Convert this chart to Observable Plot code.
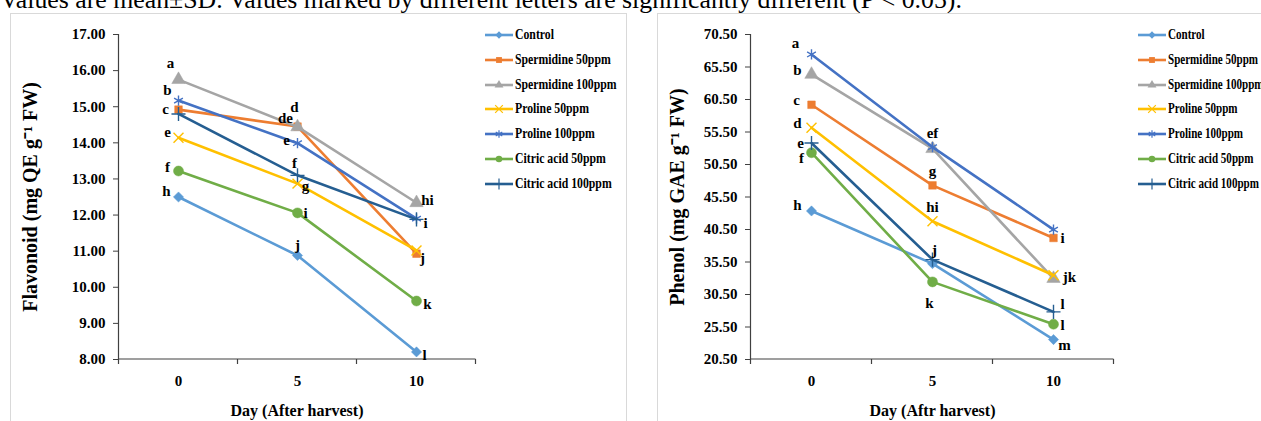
<!DOCTYPE html>
<html><head><meta charset="utf-8">
<script src="https://cdn.jsdelivr.net/npm/d3@7"></script>
<script src="https://cdn.jsdelivr.net/npm/@observablehq/plot@0.6"></script>
<style>
body{margin:0;background:#fff;}
#page{position:relative;width:1261px;height:421px;overflow:hidden;background:#fff;font-family:"Liberation Serif","Times New Roman",serif;}
#caption{position:absolute;left:0;top:-13px;font-size:25.8px;line-height:26px;white-space:nowrap;color:#000;}
.box{position:absolute;top:13px;height:420px;border:1px solid #d9d9d9;box-sizing:border-box;}
.chart{position:absolute;top:0;}
.legend{position:absolute;top:0;font-weight:bold;font-size:14px;color:#000;}
.legend .row{position:absolute;left:0;height:14px;display:flex;align-items:center;white-space:nowrap;}
.legend svg{margin-right:2px;flex:none;}
.legend span{display:inline-block;transform-origin:left center;}
</style></head>
<body><div id="page">
<div id="caption"></div>
<div class="box" style="left:10px;width:617px;"></div>
<div class="box" style="left:657px;width:700px;"></div>
</div>
<script>
// ---------- data ----------
const days = ["0", "5", "10"];
const seriesNames = ["Control", "Spermidine 50ppm", "Spermidine 100ppm", "Proline 50ppm", "Proline 100ppm", "Citric acid 50ppm", "Citric acid 100ppm"];
const flavonoidValues = [
  [12.50, 10.88, 8.21],
  [14.92, 14.45, 10.93],
  [15.75, 14.44, 12.34],
  [14.14, 12.87, 11.02],
  [15.17, 13.99, 11.90],
  [13.22, 12.06, 9.62],
  [14.80, 13.10, 11.88]
];
const phenolValues = [
  [43.35, 35.25, 23.57],
  [59.69, 47.29, 39.20],
  [64.35, 52.93, 32.95],
  [56.16, 41.76, 33.46],
  [67.43, 53.18, 40.48],
  [52.31, 32.44, 25.93],
  [53.80, 35.87, 27.83]
];
const flavonoidLetters = [
  ["h", "j", "l"],
  ["c", "de", "j"],
  ["a", "d", "hi"],
  ["e", "g", ""],
  ["b", "e", "i"],
  ["f", "i", "k"],
  ["", "f", ""]
];
const phenolLetters = [
  ["h", "", "m"],
  ["c", "g", "i"],
  ["b", "", "jk"],
  ["d", "hi", ""],
  ["a", "ef", ""],
  ["f", "k", "l"],
  ["e", "j", "l"]
];
const flavonoidTicks = [8, 9, 10, 11, 12, 13, 14, 15, 16, 17];
const phenolTicks = [20.5, 25.5, 30.5, 35.5, 40.5, 45.5, 50.5, 55.5, 60.5, 65.5, 70.5];
const captionText = "Values are mean±SD. Values marked by different letters are significantly different (P < 0.05).";
const flavonoidYLabel = "Flavonoid (mg QE g⁻¹ FW)";
const phenolYLabel = "Phenol (mg GAE g⁻¹ FW)";
const flavonoidXLabel = "Day (After harvest)";
const phenolXLabel = "Day (Aftr harvest)";

// ---------- styles ----------
const colors = ["#5B9BD5", "#ED7D31", "#A5A5A5", "#FFC000", "#4472C4", "#70AD47", "#255E91"];
const symbols = ["diamond2", "square", "triangle", "times", "asterisk", "circle", "plus"];
const symbolFilled = [true, true, true, false, false, true, false];
const symbolR = [4.6, 4.3, 5.0, 4.6, 4.8, 5.0, 4.6];
const d3Symbols = {diamond2: d3.symbolDiamond2, square: d3.symbolSquare, triangle: d3.symbolTriangle, times: d3.symbolTimes, asterisk: d3.symbolAsterisk, circle: d3.symbolCircle, plus: d3.symbolPlus};
// letter offsets [dx, dy] in px, same shape as the letter tables
const flavonoidOffsets = [
  [[-12, -6], [0, -10], [8, 3]],
  [[-13, 0], [-12, -8], [6, 4]],
  [[-8, -16], [-3, -20], [11, -3]],
  [[-11, -6], [8, 3], null],
  [[-11, -10], [-11, -3], [9, 5]],
  [[-11, -4], [8, 0], [11, 3]],
  [null, [-3, -12], null]
];
const phenolOffsets = [
  [[-14, -6], null, [11, 6]],
  [[-15, -5], [0, -14], [9, 0]],
  [[-14, -4], null, [16, -1]],
  [[-14, -5], [0, -14], null],
  [[-16, -11], [0, -14], null],
  [[-10, 5], [-3, 21], [9, 1]],
  [[-11, 0], [2, -9], [9, -8]]
];
const axisColor = "#404040";
const FONT = "Liberation Serif, Times New Roman, serif";

document.getElementById("caption").textContent = captionText;

function drawPanel(cfg) {
  const data = seriesNames.flatMap((s, i) => days.map((d, j) => ({
    series: s, idx: i, day: d, value: cfg.values[i][j], letter: cfg.letters[i][j], off: cfg.offsets[i][j]
  })));
  const marks = [
    Plot.axisY({ticks: cfg.ticks, tickFormat: d => d.toFixed(2), tickSize: 5, tickPadding: 8, label: null, stroke: axisColor, fontSize: 15}),
    Plot.axisX({tickSize: 0, tickPadding: 16, label: null, fontSize: 15})
  ];
  seriesNames.forEach((s, i) => {
    const sd = data.filter(d => d.idx === i);
    marks.push(Plot.line(sd, {x: "day", y: "value", stroke: "series", strokeWidth: 2.6}));
    marks.push(Plot.dot(sd, {x: "day", y: "value", symbol: symbols[i], r: symbolR[i],
      fill: symbolFilled[i] ? colors[i] : "none", stroke: colors[i], strokeWidth: symbolFilled[i] ? 0.5 : 1.4}));
  });
  data.filter(d => d.letter).forEach(d => {
    marks.push(Plot.text([d], {x: "day", y: "value", text: "letter", dx: d.off[0], dy: d.off[1], fontSize: 15, fontWeight: "bold", fill: "#000"}));
  });
  marks.push(Plot.text([cfg.xLabel], {text: d => d, frameAnchor: "bottom", textAnchor: "middle", lineAnchor: "middle", dy: 51, fontSize: 16, fontWeight: "bold", fill: "#000"}));
  marks.push(Plot.text([cfg.yLabel], {text: d => d, frameAnchor: "left", textAnchor: "middle", lineAnchor: "middle", rotate: -90, dx: cfg.yLabelDx, fontSize: 20, fontWeight: "bold", fill: "#000"}));

  const plot = Plot.plot({
    width: cfg.width, height: 421,
    marginLeft: cfg.marginLeft, marginRight: cfg.marginRight, marginTop: 34, marginBottom: 62,
    x: {type: "point", domain: days, padding: 0.5},
    y: {domain: [cfg.ticks[0], cfg.ticks[cfg.ticks.length - 1]]},
    color: {domain: seriesNames, range: colors},
    style: {fontFamily: FONT, fontSize: "14px", fontWeight: "bold", color: "#000", background: "transparent", overflow: "visible"},
    marks
  });
  // axis lines & category boundary ticks from the plot's own scales
  const xs = plot.scale("x"), ys = plot.scale("y");
  const svg = d3.select(plot);
  const yb = ys.apply(cfg.ticks[0]), yt = ys.apply(cfg.ticks[cfg.ticks.length - 1]);
  const step = xs.apply(days[1]) - xs.apply(days[0]);
  const bounds = days.map(d => xs.apply(d) - step / 2).concat([xs.apply(days[days.length - 1]) + step / 2]);
  const g = svg.insert("g", ":first-child").attr("stroke", axisColor).attr("stroke-width", 1.2);
  g.append("line").attr("x1", bounds[0]).attr("x2", bounds[0]).attr("y1", yt).attr("y2", yb);
  g.append("line").attr("x1", bounds[0]).attr("x2", bounds[bounds.length - 1]).attr("y1", yb).attr("y2", yb);
  bounds.forEach(b => g.append("line").attr("x1", b).attr("x2", b).attr("y1", yb).attr("y2", yb + 5));

  plot.classList.add("chart");
  plot.style.left = cfg.left + "px";
  document.getElementById("page").appendChild(plot);

  // legend
  const leg = document.createElement("div");
  leg.className = "legend";
  leg.style.left = cfg.legendLeft + "px";
  seriesNames.forEach((s, i) => {
    const row = document.createElement("div");
    row.className = "row";
    row.style.top = (35 - 7 + i * 24.8) + "px";
    const sw = d3.create("svg").attr("width", 28).attr("height", 14);
    sw.append("line").attr("x1", 0).attr("x2", 28).attr("y1", 7).attr("y2", 7).attr("stroke", colors[i]).attr("stroke-width", 2.6);
    sw.append("path").attr("transform", "translate(14,7)")
      .attr("d", d3.symbol(d3Symbols[symbols[i]], symbolFilled[i] ? 34 : 40)())
      .attr("fill", symbolFilled[i] ? colors[i] : "none").attr("stroke", colors[i]).attr("stroke-width", symbolFilled[i] ? 0 : 1.2);
    row.appendChild(sw.node());
    const t = document.createElement("span");
    t.textContent = s;
    t.style.transform = "scaleX(" + cfg.legendScale + ")";
    row.appendChild(t);
    leg.appendChild(row);
  });
  document.getElementById("page").appendChild(leg);
}

drawPanel({values: flavonoidValues, letters: flavonoidLetters, offsets: flavonoidOffsets, ticks: flavonoidTicks,
  xLabel: flavonoidXLabel, yLabel: flavonoidYLabel, yLabelDx: -88,
  left: 0, width: 640, marginLeft: 118, marginRight: 165, legendLeft: 485, legendScale: 0.84});
drawPanel({values: phenolValues, letters: phenolLetters, offsets: phenolOffsets, ticks: phenolTicks,
  xLabel: phenolXLabel, yLabel: phenolYLabel, yLabelDx: -73,
  left: 640, width: 621, marginLeft: 110, marginRight: 147, legendLeft: 1138, legendScale: 0.79});
</script>
</body></html>
